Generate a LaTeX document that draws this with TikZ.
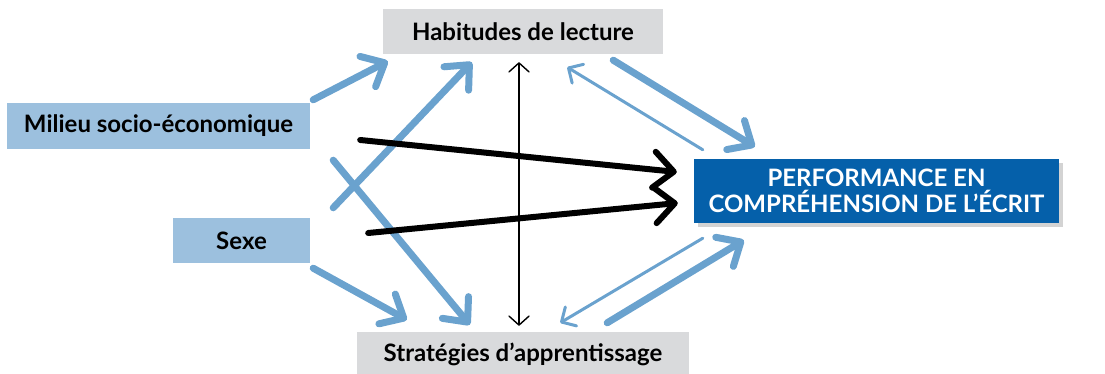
\documentclass[tikz,border=0pt]{standalone}
\usepackage{fontspec}
\setmainfont{Lato}
\usetikzlibrary{arrows.meta,shadows}
\definecolor{lblue}{HTML}{9CC0DE}
\definecolor{ablue}{HTML}{6AA2CE}
\definecolor{dblue}{HTML}{0560AA}
\definecolor{lgray}{HTML}{D9DADC}
\tikzset{
  box/.style={draw=none,inner sep=0pt,font=\fontsize{24}{28}\selectfont\bfseries,text=black},
  thickb/.style={draw=ablue,line width=7pt,line cap=round,-{Straight Barb[length=19pt,width=34pt,round]}},
  thinb/.style={draw=ablue,line width=3pt,line cap=round,-{Straight Barb[length=11pt,width=22pt,round]}},
  thickk/.style={draw=black,line width=6pt,line cap=round,-{Straight Barb[length=20pt,width=36pt,round]}},
  think/.style={draw=black,line width=1.4pt,{Straight Barb[length=9pt,width=20pt,round]}-{Straight Barb[length=9pt,width=20pt,round]}},
}
\begin{document}
\begin{tikzpicture}[x=1pt,y=-1pt]
\useasboundingbox (0,0) rectangle (1105,374);
\node[box,fill=lgray,minimum width=280pt,minimum height=45pt] (hab) at (523,31.5) {Habitudes de lecture};
\node[box,fill=lblue,minimum width=303pt,minimum height=46pt] (mil) at (158.5,126) {Milieu socio-économique};
\node[box,fill=lblue,minimum width=137pt,minimum height=45pt] (sex) at (241.5,240.5) {Sexe};
\node[box,fill=lgray,minimum width=332pt,minimum height=44pt] (str) at (523,354) {Stratégies d’apprentissage};
\node[box,fill=dblue,text=white,minimum width=365pt,minimum height=64pt,align=center,
  font=\fontsize{24}{26.5}\selectfont\bfseries,
  drop shadow={shadow xshift=4pt,shadow yshift=-4pt,opacity=0.35,fill=gray}] (perf) at (876.5,191) {PERFORMANCE EN\\COMPRÉHENSION DE L’ÉCRIT};
% blue arrows from left
\draw[thickb] ([shift={(3,-3)}]mil.north east) -- ([shift={(5,7)}]hab.south west);
\draw[thickb] ([shift={(23,-10)}]sex.north east) -- ([shift={(89,8)}]hab.south west);
\draw[thickb] ([shift={(23,11)}]mil.south east) -- ([shift={(113,-7)}]str.north west);
\draw[thickb] ([shift={(3,5)}]sex.south east) -- ([shift={(50,-12)}]str.north west);
% black arrows
\draw[thickk] ([shift={(50,14)}]mil.east) -- ([shift={(-17,-19)}]perf.west);
\draw[thickk] ([shift={(58,-7.5)}]sex.east) -- ([shift={(-16,12)}]perf.west);
\draw[think] ([shift={(-4,-6)}]str.north) -- ([shift={(-4,8)}]hab.south);
% right side
\draw[thickb] ([shift={(-50,6)}]hab.south east) -- ([shift={(61,-12)}]perf.north west);
\draw[thinb] ([shift={(9,-9)}]perf.north west) -- ([shift={(-96,13)}]hab.south east);
\draw[thickb] ([shift={(-82,-9)}]str.north east) -- ([shift={(50,17)}]perf.south west);
\draw[thinb] ([shift={(9,15)}]perf.south west) -- ([shift={(-129,-9)}]str.north east);
\end{tikzpicture}
\end{document}
